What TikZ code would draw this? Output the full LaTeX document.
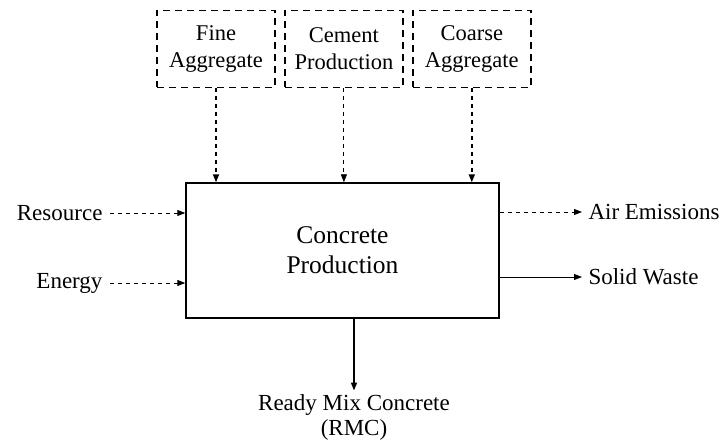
\documentclass[tikz,border=0pt]{standalone}
\usepackage{fontspec}
\setmainfont{Liberation Serif}
\usetikzlibrary{positioning, arrows.meta}

\begin{document}
\begin{tikzpicture}[x=1pt, y=-1pt,
	font=\fontsize{23}{25}\selectfont,
	inbox/.style={draw, line width=1.9pt, dash pattern=on 7pt off 5pt, minimum width=118pt, minimum height=77pt, align=center, font=\fontsize{22.5}{27}\selectfont},
	process/.style={draw, line width=1.4pt, minimum width=313pt, minimum height=135pt, align=center, font=\fontsize{25.5}{30}\selectfont},
	flow/.style={-{Triangle[length=8pt, width=6pt]}, line width=0.9pt},
	flowin/.style={flow, dash pattern=on 4pt off 4pt},
	bigflow/.style={flow, line width=1.6pt}]
	\useasboundingbox (0,0) rectangle (724,443);

	\node[process] (P) at (342.5,250.5) {Concrete\\Production};

	\node[inbox] (FA) at (216,49) {Fine\\Aggregate};
	\node[inbox, right=8pt of FA] (CP) {Cement\\Production};
	\node[inbox, right=8pt of CP] (CA) {Coarse\\Aggregate};

	\node[anchor=east] (R) at (106,213) {Resource};
	\node[anchor=east] (E) at (106,283) {Energy};

	\node[anchor=west] (AE) at (585,212) {Air Emissions};
	\node[anchor=west] (SW) at (585,277) {Solid Waste};

	\node[align=center] (RMC) at (354,417) {Ready Mix Concrete\\(RMC)};

	% inputs
	\draw[flowin, line width=1.6pt] (FA) -- (FA |- P.north);
	\draw[flowin] (CP) -- (CP |- P.north);
	\draw[flowin, line width=1.6pt] (CA) -- (CA |- P.north);
	\draw[flowin, shorten <=4pt] (R) -- (R -| P.west);
	\draw[flowin, shorten <=4pt] (E) -- (E -| P.west);

	% outputs
	\draw[flowin, shorten >=3pt] (AE -| P.east) -- (AE);
	\draw[flow, shorten >=3pt] (SW -| P.east) -- (SW);
	\draw[bigflow] (P.south -| RMC) -- (RMC);
\end{tikzpicture}
\end{document}
